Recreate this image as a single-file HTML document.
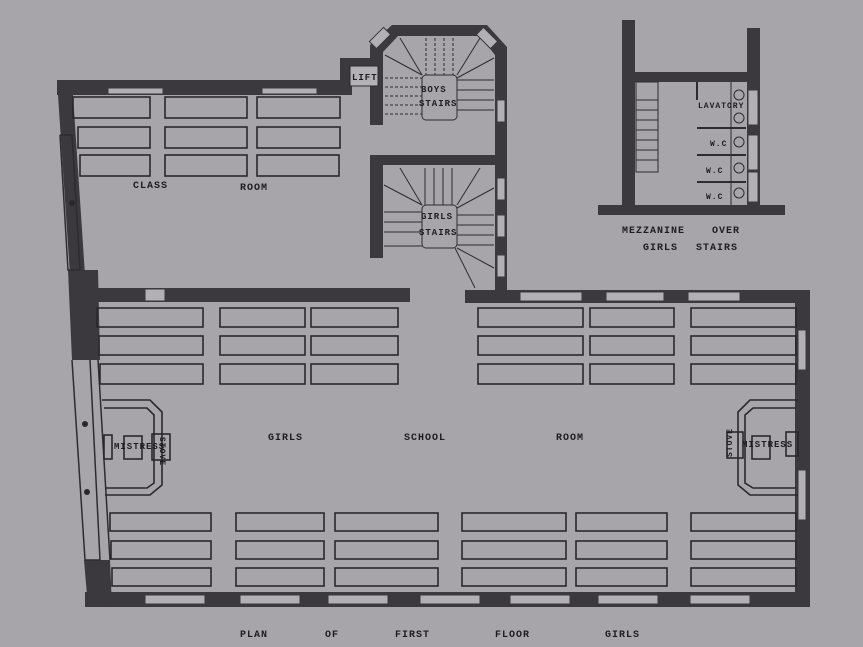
<!DOCTYPE html>
<html><head><meta charset="utf-8"><style>
html,body{margin:0;padding:0;background:#a7a5a9;}
svg{display:block}
text{font-family:"Liberation Mono",monospace;font-size:10px;fill:#1e1c20;letter-spacing:1px;font-weight:bold}
</style></head><body>
<svg width="863" height="647" viewBox="0 0 863 647" xmlns="http://www.w3.org/2000/svg">
<rect width="863" height="647" fill="#a7a5a9"/>
<g fill="#3b393d">
<rect x="57" y="80" width="290" height="15"/>
<polygon points="57,80 72,80 85,275 70,275"/>
<rect x="340" y="58" width="12" height="37"/>
<rect x="340" y="58" width="40" height="10"/>
<polygon points="370,45 392,25 487,25 507,47 495,55 480,36 398,36 383,52"/>
<rect x="370" y="45" width="13" height="80"/>
<rect x="495" y="47" width="12" height="243"/>
<rect x="370" y="155" width="137" height="10"/>
<rect x="370" y="155" width="13" height="103"/>
<rect x="85" y="288" width="325" height="14"/>
<rect x="465" y="290" width="345" height="13"/>
<rect x="795" y="290" width="15" height="316"/>
<rect x="85" y="592" width="725" height="15"/>
<polygon points="68,270 98,270 100,360 72,360"/>
<polygon points="84,560 110,560 112,607 88,607"/>
<rect x="622" y="20" width="13" height="195"/>
<rect x="747" y="28" width="13" height="180"/>
<rect x="635" y="72" width="112" height="10"/>
<rect x="598" y="205" width="187" height="10"/>
</g>
<g fill="#b2b0b4" stroke="#3b393d" stroke-width="1">
<rect x="108" y="88" width="55" height="6"/><rect x="262" y="88" width="55" height="6"/>
<rect x="145" y="289" width="20" height="12"/>
<rect x="520" y="292" width="62" height="9"/><rect x="606" y="292" width="58" height="9"/><rect x="688" y="292" width="52" height="9"/>
<rect x="145" y="595" width="60" height="9"/><rect x="240" y="595" width="60" height="9"/><rect x="328" y="595" width="60" height="9"/><rect x="420" y="595" width="60" height="9"/><rect x="510" y="595" width="60" height="9"/><rect x="598" y="595" width="60" height="9"/><rect x="690" y="595" width="60" height="9"/>
<rect x="497" y="100" width="8" height="22"/><rect x="497" y="178" width="8" height="22"/><rect x="497" y="215" width="8" height="22"/><rect x="497" y="255" width="8" height="22"/>
<rect x="798" y="330" width="8" height="40"/><rect x="798" y="470" width="8" height="50"/>
<rect x="748" y="90" width="10" height="35"/><rect x="748" y="135" width="10" height="35"/><rect x="748" y="172" width="10" height="30"/>
<rect x="375" y="28" width="10" height="20" transform="rotate(45 380 38)"/>
<rect x="482" y="28" width="10" height="20" transform="rotate(-45 487 38)"/>
</g>
<g fill="none" stroke="#2e2c30" stroke-width="1.5">
<polyline points="60,135 68,270 80,270 72,135 60,135"/>
<polyline points="72,360 85,560 100,560 90,360"/>
<line x1="98" y1="360" x2="110" y2="560"/>
</g>
<rect x="350" y="66" width="28" height="20" fill="#b3b1b5" stroke="#2e2c30"/>
<text x="352" y="80" style="font-size:9px">LIFT</text>
<g stroke="#2e2c30" stroke-width="1" fill="none">
<rect x="422" y="75" width="35" height="45" rx="4"/>
<rect x="422" y="205" width="35" height="43" rx="4"/>
<g stroke-dasharray="3,2">
<line x1="385" y1="78" x2="422" y2="78"/><line x1="385" y1="87" x2="422" y2="87"/><line x1="385" y1="96" x2="422" y2="96"/><line x1="385" y1="105" x2="422" y2="105"/><line x1="385" y1="114" x2="422" y2="114"/>
<line x1="426" y1="38" x2="426" y2="75"/><line x1="435" y1="38" x2="435" y2="75"/><line x1="444" y1="38" x2="444" y2="75"/><line x1="453" y1="38" x2="453" y2="75"/>
</g>
<line x1="457" y1="80" x2="494" y2="80"/><line x1="457" y1="90" x2="494" y2="90"/><line x1="457" y1="100" x2="494" y2="100"/><line x1="457" y1="110" x2="494" y2="110"/>
<line x1="422" y1="75" x2="385" y2="55"/><line x1="422" y1="75" x2="400" y2="38"/><line x1="457" y1="75" x2="480" y2="38"/><line x1="457" y1="78" x2="494" y2="58"/>
<line x1="425" y1="168" x2="425" y2="205"/><line x1="434" y1="168" x2="434" y2="205"/><line x1="443" y1="168" x2="443" y2="205"/><line x1="452" y1="168" x2="452" y2="205"/>
<line x1="384" y1="212" x2="422" y2="212"/><line x1="384" y1="222" x2="422" y2="222"/><line x1="384" y1="232" x2="422" y2="232"/><line x1="384" y1="246" x2="422" y2="246"/>
<line x1="457" y1="215" x2="494" y2="215"/><line x1="457" y1="225" x2="494" y2="225"/><line x1="457" y1="235" x2="494" y2="235"/><line x1="457" y1="245" x2="494" y2="245"/>
<line x1="422" y1="205" x2="384" y2="185"/><line x1="422" y1="205" x2="400" y2="168"/><line x1="457" y1="205" x2="480" y2="168"/><line x1="457" y1="208" x2="494" y2="188"/>
<line x1="455" y1="248" x2="475" y2="288"/><line x1="457" y1="248" x2="494" y2="268"/>
<rect x="636" y="82" width="22" height="90"/>
<line x1="636" y1="100" x2="658" y2="100"/><line x1="636" y1="110" x2="658" y2="110"/><line x1="636" y1="120" x2="658" y2="120"/><line x1="636" y1="130" x2="658" y2="130"/><line x1="636" y1="140" x2="658" y2="140"/><line x1="636" y1="150" x2="658" y2="150"/><line x1="636" y1="160" x2="658" y2="160"/>
<line x1="697" y1="128" x2="746" y2="128" stroke-width="2"/><line x1="697" y1="155" x2="746" y2="155" stroke-width="2"/><line x1="697" y1="182" x2="746" y2="182" stroke-width="2"/>
<line x1="697" y1="82" x2="697" y2="100" stroke-width="2"/>
<line x1="731" y1="82" x2="731" y2="205"/>
<circle cx="739" cy="95" r="5"/><circle cx="739" cy="118" r="5"/><circle cx="739" cy="142" r="5"/><circle cx="739" cy="168" r="5"/><circle cx="739" cy="193" r="5"/>
</g>
<g fill="none" stroke="#2a282c" stroke-width="1.6">
<rect x="73" y="97" width="77" height="21"/><rect x="165" y="97" width="82" height="21"/><rect x="257" y="97" width="83" height="21"/>
<rect x="78" y="127" width="72" height="21"/><rect x="165" y="127" width="82" height="21"/><rect x="257" y="127" width="83" height="21"/>
<rect x="80" y="155" width="70" height="21"/><rect x="165" y="155" width="82" height="21"/><rect x="257" y="155" width="82" height="21"/>
<rect x="97" y="308" width="106" height="19"/><rect x="220" y="308" width="85" height="19"/><rect x="311" y="308" width="87" height="19"/><rect x="478" y="308" width="105" height="19"/><rect x="590" y="308" width="84" height="19"/><rect x="691" y="308" width="105" height="19"/>
<rect x="99" y="336" width="104" height="19"/><rect x="220" y="336" width="85" height="19"/><rect x="311" y="336" width="87" height="19"/><rect x="478" y="336" width="105" height="19"/><rect x="590" y="336" width="84" height="19"/><rect x="691" y="336" width="105" height="19"/>
<rect x="100" y="364" width="103" height="20"/><rect x="220" y="364" width="85" height="20"/><rect x="311" y="364" width="87" height="20"/><rect x="478" y="364" width="105" height="20"/><rect x="590" y="364" width="84" height="20"/><rect x="691" y="364" width="105" height="20"/>
<rect x="110" y="513" width="101" height="18"/><rect x="236" y="513" width="88" height="18"/><rect x="335" y="513" width="103" height="18"/><rect x="462" y="513" width="104" height="18"/><rect x="576" y="513" width="91" height="18"/><rect x="691" y="513" width="105" height="18"/>
<rect x="111" y="541" width="100" height="18"/><rect x="236" y="541" width="88" height="18"/><rect x="335" y="541" width="103" height="18"/><rect x="462" y="541" width="104" height="18"/><rect x="576" y="541" width="91" height="18"/><rect x="691" y="541" width="105" height="18"/>
<rect x="112" y="568" width="99" height="18"/><rect x="236" y="568" width="88" height="18"/><rect x="335" y="568" width="103" height="18"/><rect x="462" y="568" width="104" height="18"/><rect x="576" y="568" width="91" height="18"/><rect x="691" y="568" width="105" height="18"/>
<path d="M102,400 H150 L162,412 V485 L150,495 H105"/>
<path d="M104,408 H147 L154,415 V483 L147,488 H106"/>
<rect x="124" y="436" width="18" height="23"/><rect x="152" y="434" width="18" height="26"/><rect x="104" y="435" width="8" height="24"/>
<path d="M798,400 H750 L738,412 V485 L750,495 H798"/>
<path d="M796,408 H753 L745,415 V483 L753,488 H796"/>
<rect x="752" y="436" width="18" height="23"/><rect x="727" y="432" width="16" height="26"/><rect x="786" y="432" width="12" height="24"/>
</g>
<g fill="#2a282c"><circle cx="85" cy="424" r="3"/><circle cx="87" cy="492" r="3"/><circle cx="72" cy="203" r="3"/></g>
<text x="133" y="188">CLASS</text><text x="240" y="190">ROOM</text>
<text x="421" y="92" style="font-size:9px">BOYS</text><text x="419" y="106" style="font-size:9px">STAIRS</text>
<text x="421" y="219" style="font-size:9px">GIRLS</text><text x="419" y="235" style="font-size:9px">STAIRS</text>
<text x="268" y="440">GIRLS</text><text x="404" y="440">SCHOOL</text><text x="556" y="440">ROOM</text>
<text x="114" y="449" style="font-size:9px">MISTRESS</text>
<text x="742" y="447" style="font-size:9px">MISTRESS</text>
<text x="160" y="437" style="font-size:8px" transform="rotate(90 160 437)">STOVE</text>
<text x="732" y="457" style="font-size:8px" transform="rotate(-90 732 457)">STOVE</text>
<text x="698" y="108" style="font-size:8px">LAVATORY</text>
<text x="710" y="146" style="font-size:8px">W.C</text><text x="706" y="173" style="font-size:8px">W.C</text><text x="706" y="199" style="font-size:8px">W.C</text>
<text x="622" y="233">MEZZANINE</text><text x="712" y="233">OVER</text>
<text x="643" y="250">GIRLS</text><text x="696" y="250">STAIRS</text>
<text x="240" y="637">PLAN</text><text x="325" y="637">OF</text><text x="395" y="637">FIRST</text><text x="495" y="637">FLOOR</text><text x="605" y="637">GIRLS</text>
</svg>
</body></html>
